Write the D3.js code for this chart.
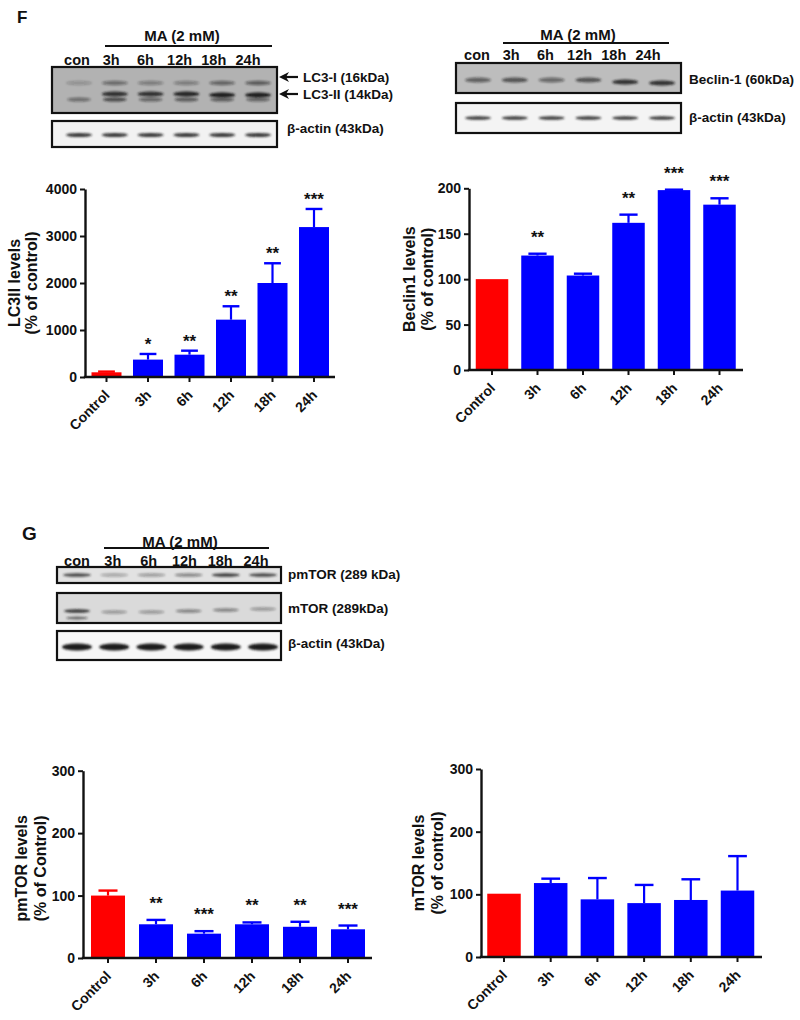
<!DOCTYPE html>
<html><head><meta charset="utf-8">
<script src="https://cdn.jsdelivr.net/npm/d3@7"></script>
<style>
body{margin:0;background:#fff}
svg{display:block}
text{font-family:Arial,"Liberation Sans",sans-serif;font-weight:bold;fill:#111}
</style>
</head><body>
<svg id="c" width="800" height="1020"></svg>
<script>
// ---------- data ----------
const categories = ["Control","3h","6h","12h","18h","24h"];
const lanes = ["con","3h","6h","12h","18h","24h"];

const lc3Values = [100, 370, 475, 1220, 2000, 3190];
const lc3Errors = [15, 120, 85, 285, 420, 385];
const lc3Stars  = ["", "*", "**", "**", "**", "***"];
const lc3Ticks  = [0, 1000, 2000, 3000, 4000];

const beclinValues = [100, 126, 104, 162, 198, 182];
const beclinErrors = [0, 2, 2, 9, 0.5, 7];
const beclinStars  = ["", "**", "", "**", "***", "***"];
const beclinTicks  = [0, 50, 100, 150, 200];

const pmtorValues = [100, 54, 39, 54, 50, 46];
const pmtorErrors = [8, 7, 4, 3, 8, 6];
const pmtorStars  = ["", "**", "***", "**", "**", "***"];

const mtorValues = [101, 118, 92, 86, 91, 106];
const mtorErrors = [0, 7, 34, 29, 33, 55];
const mtorStars  = ["", "", "", "", "", ""];
const torTicks   = [0, 100, 200, 300];

// blot band intensities (0..1) per lane
const lc3IBand      = [0.22, 0.45, 0.35, 0.35, 0.5, 0.55];
const lc3IIUpper    = [0.0, 0.85, 0.85, 0.95, 1.0, 1.0];
const lc3IILower    = [0.45, 0.7, 0.5, 0.6, 0.55, 0.5];
const actinF1Band   = [0.85, 0.85, 0.85, 0.85, 0.85, 0.85];
const beclinBand    = [0.55, 0.65, 0.5, 0.65, 0.85, 0.85];
const actinF2Band   = [0.85, 0.85, 0.85, 0.85, 0.85, 0.85];
const pmtorBand     = [0.75, 0.3, 0.35, 0.45, 0.8, 0.75];
const mtorBand      = [0.85, 0.35, 0.35, 0.45, 0.45, 0.35];
const actinGBand    = [1, 1, 1, 1, 1, 1];

const BLUE = "#0000ff", RED = "#ff0000";
const FONT = "Arial, 'Liberation Sans', sans-serif";
const svg = d3.select("#c");

const defs = svg.append("defs");
defs.append("filter").attr("id","blur").attr("x","-50%").attr("y","-100%").attr("width","200%").attr("height","300%")
  .append("feGaussianBlur").attr("stdDeviation", 1.3);

// ---------- bar chart ----------
function barChart(c) {
  const n = categories.length;
  const step = (c.c1 - c.c0) / (n - 1);
  const p = 1 - c.bw / step;
  const x = d3.scaleBand().domain(categories)
    .range([c.c0 - step/2, c.c1 + step/2]).paddingInner(p).paddingOuter(p/2);
  const y = d3.scaleLinear().domain([0, c.max]).range([c.y0, c.y1]);
  const g = svg.append("g");
  const data = categories.map((k,i)=>({k, v:c.values[i], e:c.errors[i], s:c.stars[i], col: i===0?RED:BLUE}));

  // error bars
  data.forEach(d=>{
    if (d.e > 0) {
      const cx = x(d.k) + x.bandwidth()/2;
      g.append("line").attr("x1",cx).attr("x2",cx).attr("y1",y(d.v)).attr("y2",y(d.v+d.e))
        .attr("stroke",d.col).attr("stroke-width",2.2);
      g.append("line").attr("x1",cx - x.bandwidth()*0.28).attr("x2",cx + x.bandwidth()*0.28)
        .attr("y1",y(d.v+d.e)).attr("y2",y(d.v+d.e)).attr("stroke",d.col).attr("stroke-width",2.4);
    }
  });
  // bars
  g.selectAll("rect.bar").data(data).join("rect").attr("class","bar")
    .attr("x", d=>x(d.k)).attr("width", x.bandwidth())
    .attr("y", d=>y(d.v)).attr("height", d=>c.y0 - y(d.v)).attr("fill", d=>d.col);
  // stars
  g.selectAll("text.star").data(data.filter(d=>d.s)).join("text").attr("class","star")
    .attr("x", d=>x(d.k)+x.bandwidth()/2)
    .attr("y", d=>y(d.v+d.e) - c.starGap + 9)
    .attr("text-anchor","middle").style("font-size","17px").text(d=>d.s);

  // y axis
  const ya = g.append("g").attr("transform",`translate(${c.axisX},0)`)
    .call(d3.axisLeft(y).tickValues(c.ticks).tickSize(5).tickSizeOuter(0).tickPadding(3).tickFormat(d3.format("d")));
  ya.select(".domain").attr("stroke","#111").attr("stroke-width",2.4);
  ya.selectAll(".tick line").attr("stroke","#111").attr("stroke-width",2);
  ya.selectAll(".tick text").style("font-size","14px").style("font-family",FONT).style("font-weight","bold").attr("fill","#111");

  // x axis
  const xa = g.append("g").attr("transform",`translate(0,${c.y0})`)
    .call(d3.axisBottom(x).tickSize(5).tickSizeOuter(0));
  xa.select(".domain").remove();
  xa.selectAll(".tick line").attr("stroke","#111").attr("stroke-width",2);
  xa.selectAll(".tick text").attr("x",0).attr("y",0).attr("dy",0)
    .attr("transform","translate(4,19) rotate(-45)").style("text-anchor","end")
    .style("font-size","14px").style("font-family",FONT).style("font-weight","bold").attr("fill","#111");
  g.append("line").attr("x1",c.axisX-1.2).attr("x2",c.axisEnd).attr("y1",c.y0).attr("y2",c.y0)
    .attr("stroke","#111").attr("stroke-width",2.4);

  // y label
  const ly = (c.y0 + c.y1)/2 + (c.labelDy||0);
  g.append("text").attr("transform",`translate(${c.lx1},${ly}) rotate(-90)`).attr("text-anchor","middle")
    .style("font-size","16px").text(c.label1);
  g.append("text").attr("transform",`translate(${c.lx2},${ly}) rotate(-90)`).attr("text-anchor","middle")
    .style("font-size","16px").text(c.label2);
}

barChart({axisX:85, axisEnd:335, y0:377, y1:189, max:4000, ticks:lc3Ticks, c0:106.5, c1:314, bw:30,
  values:lc3Values, errors:lc3Errors, stars:lc3Stars, starGap:13,
  label1:"LC3II levels", label2:"(% of control)", lx1:20, lx2:37});
barChart({axisX:469, axisEnd:743, y0:370, y1:188.3, max:200, ticks:beclinTicks, c0:492, c1:719.5, bw:32.5,
  values:beclinValues, errors:beclinErrors, stars:beclinStars, starGap:20,
  label1:"Beclin1 levels", label2:"(% of control)", lx1:415, lx2:433});
barChart({axisX:83, axisEnd:372, y0:958, y1:770.7, max:300, ticks:torTicks, c0:108, c1:348, bw:34,
  values:pmtorValues, errors:pmtorErrors, stars:pmtorStars, starGap:20,
  label1:"pmTOR levels", label2:"(% of Control)", lx1:27, lx2:46, labelDy:4});
barChart({axisX:481, axisEnd:762, y0:957, y1:769, max:300, ticks:torTicks, c0:504, c1:737.5, bw:33.5,
  values:mtorValues, errors:mtorErrors, stars:mtorStars, starGap:20,
  label1:"mTOR levels", label2:"(% of control)", lx1:424, lx2:443});

// ---------- western blots ----------
function blotBox(x0,x1,y0,y1,bg){
  svg.append("rect").attr("x",x0).attr("y",y0).attr("width",x1-x0).attr("height",y1-y0)
    .attr("fill",bg).attr("stroke","#111").attr("stroke-width",2.2);
}
function bands(xs, vals, cy, rx, ry, dy){
  svg.append("g").attr("filter","url(#blur)").selectAll("ellipse").data(lanes).join("ellipse")
    .attr("cx", d=>xs(d)).attr("cy", (d,i)=>cy + (dy? dy[i]:0)).attr("rx", rx).attr("ry", ry)
    .attr("fill","#1a1a1a").attr("opacity",(d,i)=>vals[i]);
}
function header(lx0,lx1,lineY,maX,maY,labelXs,labelY){
  svg.append("text").attr("x",maX).attr("y",maY).attr("text-anchor","middle").style("font-size","15px").text("MA (2 mM)");
  svg.append("line").attr("x1",lx0).attr("x2",lx1).attr("y1",lineY).attr("y2",lineY).attr("stroke","#111").attr("stroke-width",2.2);
  svg.selectAll(null).data(lanes).join("text").attr("x",d=>labelXs(d)).attr("y",labelY)
    .attr("text-anchor","middle").style("font-size","14.5px").text(d=>d);
}
function label(x,y,t,size){
  svg.append("text").attr("x",x).attr("y",y).style("font-size",(size||13.5)+"px").text(t);
}
function arrow(x0,x1,y){
  svg.append("line").attr("x1",x0).attr("x2",x1+6).attr("y1",y).attr("y2",y).attr("stroke","#111").attr("stroke-width",2.2);
  svg.append("path").attr("d",`M${x1},${y} L${x1+10},${y-5} L${x1+7},${y} L${x1+10},${y+5} Z`).attr("fill","#111");
}

// panel F
svg.append("text").attr("x",17).attr("y",23).style("font-size","17px").text("F");
// LC3 blot
const fLab = d3.scalePoint().domain(lanes).range([77,248]);
const fBand = d3.scalePoint().domain(lanes).range([79,258]);
header(105,272,46,182,41,fLab,65);
blotBox(52,277,67,113,"#b2b2b2");
bands(fBand, lc3IBand, 83, 13, 2.2);
bands(fBand, lc3IIUpper, 94, 13, 2.6, [0,0,0,0,1,1]);
bands(fBand, lc3IILower, 99.5, 12, 2.0);
blotBox(52,277,121,147,"#f2f2f2");
bands(fBand, actinF1Band, 135, 13, 2.0);
label(303,82,"LC3-I (16kDa)");
label(303,99,"LC3-II (14kDa)");
arrow(298,279,77);
arrow(298,279,94);
label(287,133,"β-actin (43kDa)");

// Beclin blot
const bLab = d3.scalePoint().domain(lanes).range([477,648]);
const bBand = d3.scalePoint().domain(lanes).range([478,662]);
header(503,669,43,578,40,bLab,60);
blotBox(456,681,63,93,"#bdbdbd");
bands(bBand, beclinBand, 80, 13, 2.6, [0,0,0,0,2,3]);
blotBox(456,681,103,133,"#f4f4f4");
bands(bBand, actinF2Band, 118, 13, 1.8);
label(689,84,"Beclin-1 (60kDa)");
label(689,122,"β-actin (43kDa)");

// panel G
svg.append("text").attr("x",22).attr("y",540).style("font-size","19px").text("G");
const gLab = d3.scalePoint().domain(lanes).range([77,256]);
const gBand = d3.scalePoint().domain(lanes).range([77,263]);
header(104,269,548,180,547,gLab,566);
blotBox(57,281,567,583,"#e2e2e2");
bands(gBand, pmtorBand, 575, 14, 1.8);
blotBox(57,281,593,623,"#dadada");
bands(gBand, mtorBand, 611, 13, 1.8, [0,1,1,0,-1,-2]);
bands(gBand, [0.6,0,0,0,0,0], 618, 11, 1.4);
blotBox(57,281,631,660,"#f6f6f6");
bands(gBand, actinGBand, 647, 15, 3.5);
label(288,579,"pmTOR (289 kDa)");
label(288,613,"mTOR (289kDa)");
label(288,648,"β-actin (43kDa)");
</script>
</body></html>
